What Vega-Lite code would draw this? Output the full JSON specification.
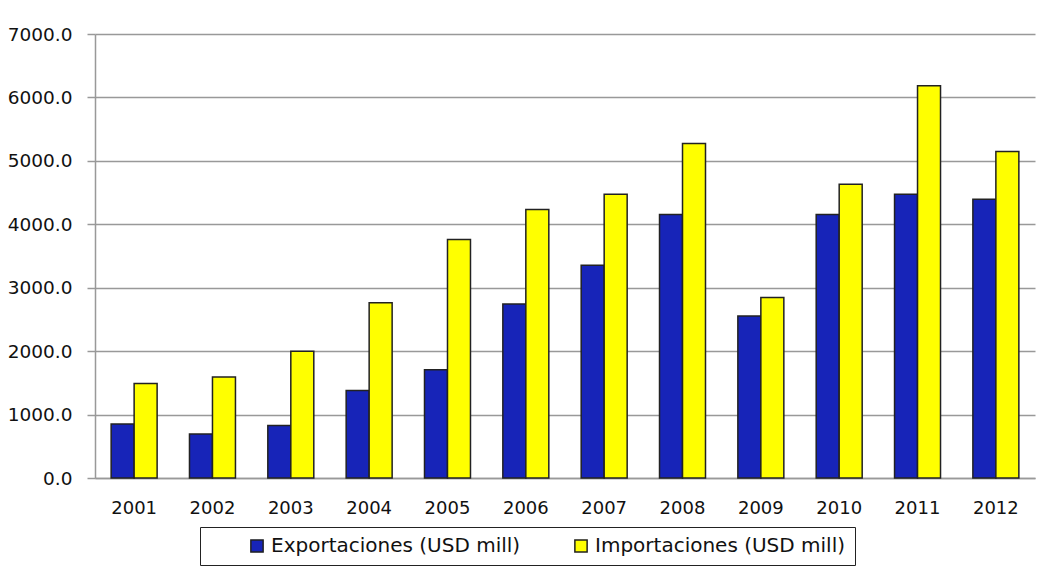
{
  "$schema": "https://vega.github.io/schema/vega-lite/v6.json",
  "autosize": "none",
  "width": 940,
  "height": 444,
  "padding": {"left": 95, "top": 34, "right": 6, "bottom": 99},
  "background": "white",
  "data": {
    "values": [
      {"year": "2001", "serie": "Exportaciones (USD mill)", "valor": 852},
      {"year": "2001", "serie": "Importaciones (USD mill)", "valor": 1490},
      {"year": "2002", "serie": "Exportaciones (USD mill)", "valor": 694},
      {"year": "2002", "serie": "Importaciones (USD mill)", "valor": 1594},
      {"year": "2003", "serie": "Exportaciones (USD mill)", "valor": 827},
      {"year": "2003", "serie": "Importaciones (USD mill)", "valor": 2000},
      {"year": "2004", "serie": "Exportaciones (USD mill)", "valor": 1381},
      {"year": "2004", "serie": "Importaciones (USD mill)", "valor": 2762},
      {"year": "2005", "serie": "Exportaciones (USD mill)", "valor": 1708},
      {"year": "2005", "serie": "Importaciones (USD mill)", "valor": 3759},
      {"year": "2006", "serie": "Exportaciones (USD mill)", "valor": 2743},
      {"year": "2006", "serie": "Importaciones (USD mill)", "valor": 4233},
      {"year": "2007", "serie": "Exportaciones (USD mill)", "valor": 3354},
      {"year": "2007", "serie": "Importaciones (USD mill)", "valor": 4474},
      {"year": "2008", "serie": "Exportaciones (USD mill)", "valor": 4154},
      {"year": "2008", "serie": "Importaciones (USD mill)", "valor": 5275},
      {"year": "2009", "serie": "Exportaciones (USD mill)", "valor": 2554},
      {"year": "2009", "serie": "Importaciones (USD mill)", "valor": 2844},
      {"year": "2010", "serie": "Exportaciones (USD mill)", "valor": 4154},
      {"year": "2010", "serie": "Importaciones (USD mill)", "valor": 4632},
      {"year": "2011", "serie": "Exportaciones (USD mill)", "valor": 4474},
      {"year": "2011", "serie": "Importaciones (USD mill)", "valor": 6184},
      {"year": "2012", "serie": "Exportaciones (USD mill)", "valor": 4395},
      {"year": "2012", "serie": "Importaciones (USD mill)", "valor": 5148}
    ]
  },
  "mark": {"type": "bar", "stroke": "#222222", "strokeWidth": 1.5},
  "encoding": {
    "x": {
      "field": "year",
      "type": "ordinal",
      "scale": {"paddingInner": 0.413, "paddingOuter": 0.206},
      "axis": {
        "title": null,
        "labelAngle": 0,
        "ticks": false,
        "domain": true,
        "domainColor": "#999999",
        "domainWidth": 1.5,
        "labelPadding": 21,
        "labelFont": "DejaVu Sans",
        "labelFontSize": 18,
        "labelColor": "#111111"
      }
    },
    "xOffset": {"field": "serie", "type": "nominal", "sort": ["Exportaciones (USD mill)", "Importaciones (USD mill)"]},
    "y": {
      "field": "valor",
      "type": "quantitative",
      "scale": {"domain": [0, 7000], "nice": false},
      "axis": {
        "title": null,
        "values": [0, 1000, 2000, 3000, 4000, 5000, 6000, 7000],
        "format": ".1f",
        "grid": true,
        "gridColor": "#999999",
        "gridWidth": 1.5,
        "domain": true,
        "domainColor": "#999999",
        "domainWidth": 1.5,
        "ticks": true,
        "tickSize": 8,
        "tickColor": "#999999",
        "tickWidth": 1.5,
        "labelPadding": 15,
        "labelFont": "DejaVu Sans",
        "labelFontSize": 18.5,
        "labelColor": "#111111"
      }
    },
    "color": {
      "field": "serie",
      "type": "nominal",
      "scale": {
        "domain": ["Exportaciones (USD mill)", "Importaciones (USD mill)"],
        "range": ["#1724B8", "#FFFF00"]
      },
      "legend": {
        "title": null,
        "orient": "none",
        "legendX": 105,
        "legendY": 493,
        "direction": "horizontal",
        "columns": 2,
        "strokeColor": "#222222",
        "padding": 9,
        "symbolType": "square",
        "symbolSize": 150,
        "symbolStrokeColor": "#222222",
        "symbolStrokeWidth": 1.5,
        "symbolOpacity": 1,
        "symbolOffset": 38,
        "columnPadding": 12,
        "labelFont": "DejaVu Sans",
        "labelFontSize": 20,
        "labelColor": "#111111",
        "labelLimit": 400,
        "labelOffset": 4
      }
    }
  },
  "config": {"view": {"stroke": null}}
}
